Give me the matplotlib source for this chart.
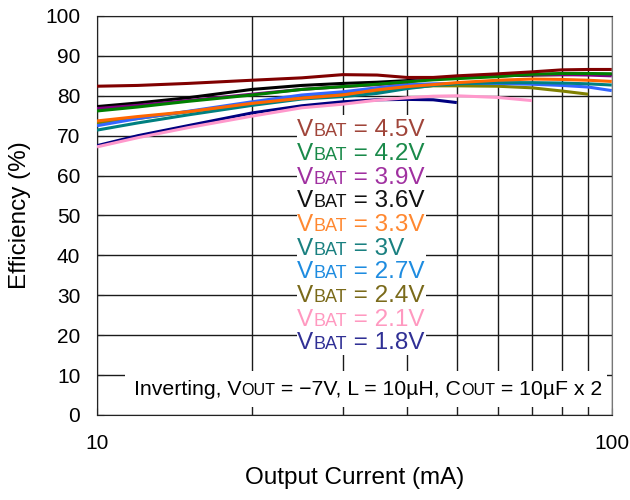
import numpy as np
import matplotlib
matplotlib.use('Agg')
import matplotlib.pyplot as plt
from matplotlib.offsetbox import TextArea, HPacker, AnnotationBbox
from matplotlib.patches import Rectangle
from matplotlib.ticker import NullFormatter, FixedLocator

plt.rcParams['font.family'] = ['Liberation Sans', 'DejaVu Sans']

# output current (mA)
current = [10, 12, 15, 20, 25, 30, 35, 40, 45, 50, 60, 70, 80, 90, 100]

# efficiency (%) per battery voltage
eff_1v8 = [67.5, 70.0, 72.5, 75.7, 77.5, 78.5, 79.0, 79.1, 79.0, 78.3]
eff_2v1 = [67.2, 69.5, 72.0, 74.9, 77.0, 77.9, 78.9, 79.5, 79.9, 80.0, 79.6, 78.8]
eff_2v4 = [73.2, 74.3, 76.0, 78.0, 79.5, 80.5, 81.3, 82.0, 82.5, 82.5, 82.4, 82.0, 81.2, 80.4]
eff_2v7 = [72.5, 74.3, 76.1, 78.5, 80.2, 81.0, 82.0, 82.8, 83.0, 83.1, 83.1, 82.9, 82.6, 82.2, 81.3]
eff_3v0 = [71.4, 73.2, 75.2, 77.6, 79.2, 79.8, 80.6, 81.8, 82.6, 83.0, 83.3, 83.3, 83.2, 83.0, 82.7]
eff_3v3 = [73.7, 74.8, 76.0, 78.1, 79.4, 80.2, 81.5, 82.3, 82.8, 83.3, 83.9, 84.2, 84.1, 83.9, 83.6]
eff_3v6 = [77.3, 78.2, 79.5, 81.6, 82.6, 83.1, 83.4, 83.8, 84.2, 84.6, 85.0, 85.2, 85.3, 85.4, 85.4]
eff_3v9 = [76.8, 77.6, 78.8, 80.4, 81.6, 82.3, 82.8, 83.5, 84.3, 84.7, 85.0, 85.3, 85.3, 85.2, 85.0]
eff_4v2 = [76.2, 77.2, 78.6, 80.2, 81.6, 82.3, 82.9, 83.5, 84.0, 84.3, 84.8, 85.4, 85.6, 85.6, 85.5]
eff_4v5 = [82.4, 82.6, 83.1, 83.9, 84.5, 85.3, 85.2, 84.6, 84.6, 85.0, 85.5, 86.0, 86.5, 86.6, 86.6]

vbat_labels = ['1.8V', '2.1V', '2.4V', '2.7V', '3V', '3.3V', '3.6V', '3.9V', '4.2V', '4.5V']
series = [eff_1v8, eff_2v1, eff_2v4, eff_2v7, eff_3v0, eff_3v3, eff_3v6, eff_3v9, eff_4v2, eff_4v5]
line_colors = ['#000080', '#FF99CC', '#808000', '#3366FF', '#008080',
               '#FF6600', '#000000', '#800080', '#008000', '#800000']
text_colors = ['#303095', '#FF99C0', '#7A6A1A', '#1E8CE0', '#1A8080',
               '#FF8830', '#111111', '#A030A0', '#1A8A4A', '#A0453A']

fig = plt.figure(figsize=(6.3, 5.0), dpi=100)
ax = fig.add_axes([0.154, 0.17, 0.817, 0.798])

for vals, col in zip(series, line_colors):
    ax.plot(current[:len(vals)], vals, color=col, lw=2.2, zorder=3,
            solid_capstyle='butt')

ax.set_xscale('log')
ax.set_xlim(10, 100)
ax.set_ylim(0, 100)
ax.set_yticks(np.arange(0, 101, 10))
ax.xaxis.set_major_locator(FixedLocator([10, 100]))
ax.xaxis.set_minor_locator(FixedLocator([20, 30, 40, 50, 60, 70, 80, 90]))
ax.xaxis.set_minor_formatter(NullFormatter())
ax.set_xticklabels(['10', '100'])

ax.grid(True, which='both', color='#1a1a1a', lw=1.0, zorder=1)
ax.set_axisbelow(True)
ax.tick_params(which='both', direction='in', length=5, color='#222222',
               labelsize=15, pad=12)
ax.tick_params(axis='x', pad=14)
for s in ['left', 'bottom', 'top']:
    ax.spines[s].set_color('#222222')
ax.spines['right'].set_color('#777777')

ax.set_xlabel('Output Current (mA)', fontsize=17.5, labelpad=10)
ax.set_ylabel('Efficiency (%)', fontsize=17.5, labelpad=10)

# white panel behind the VBAT labels
ax.add_patch(Rectangle((0.389, 0.15), 0.25, 0.603, transform=ax.transAxes,
                       fc='white', ec='none', zorder=2))

y_top = 0.714
step = 0.0594
for i, (lab, col) in enumerate(zip(vbat_labels[::-1], text_colors[::-1])):
    hp = HPacker(children=[
        TextArea('V', textprops=dict(color=col, fontsize=17.5)),
        TextArea('BAT', textprops=dict(color=col, fontsize=13)),
        TextArea(' = ' + lab, textprops=dict(color=col, fontsize=17.5)),
    ], align='baseline', pad=0, sep=0)
    ab = AnnotationBbox(hp, (0.389, y_top - i * step), xycoords='axes fraction',
                        box_alignment=(0, 0.5), frameon=False, zorder=4)
    ax.add_artist(ab)

# conditions note
ax.add_patch(Rectangle((0.054, 0.02), 0.936, 0.09, transform=ax.transAxes,
                       fc='white', ec='none', zorder=2))
fs = 15.35
note = HPacker(children=[
    TextArea('Inverting, V', textprops=dict(fontsize=fs)),
    TextArea('OUT', textprops=dict(fontsize=11.6)),
    TextArea(' = \u22127V, L = 10\u00b5H, C', textprops=dict(fontsize=fs)),
    TextArea('OUT', textprops=dict(fontsize=11.6)),
    TextArea(' = 10\u00b5F x 2', textprops=dict(fontsize=fs)),
], align='baseline', pad=0, sep=0)
ax.add_artist(AnnotationBbox(note, (0.982, 0.063), xycoords='axes fraction',
                             box_alignment=(1, 0.5), frameon=False, zorder=4))

fig.savefig('out.png', dpi=100)
